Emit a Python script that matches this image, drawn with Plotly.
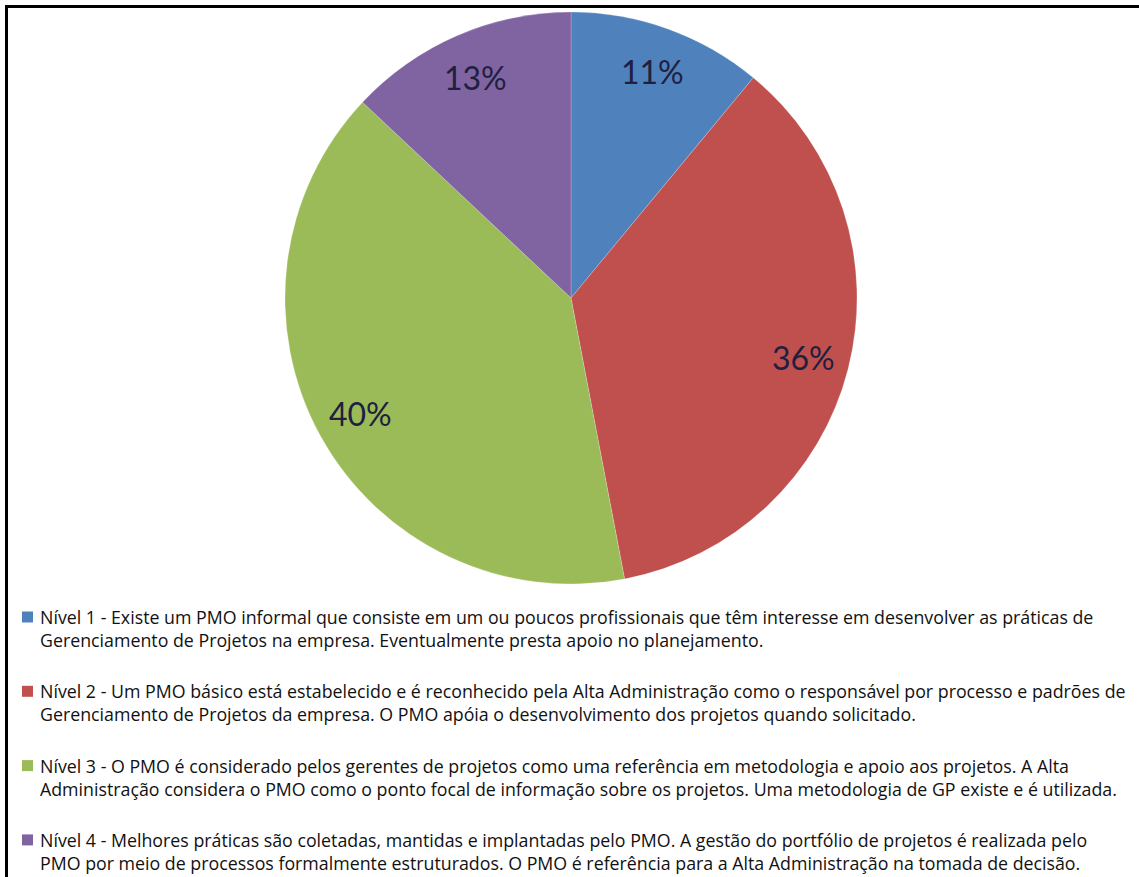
import math
import plotly.graph_objects as go

W, H = 1139, 877

levels = ["Nível 1", "Nível 2", "Nível 3", "Nível 4"]
values = [11, 36, 40, 13]
descriptions = [
    ["Nível 1 - Existe um PMO informal que consiste em um ou poucos profissionais que têm interesse em desenvolver as práticas de",
     "Gerenciamento de Projetos na empresa. Eventualmente presta apoio no planejamento."],
    ["Nível 2 - Um PMO básico está estabelecido e é reconhecido pela Alta Administração como o responsável por processo e padrões de",
     "Gerenciamento de Projetos da empresa. O PMO apóia o desenvolvimento dos projetos quando solicitado."],
    ["Nível 3 - O PMO é considerado pelos gerentes de projetos como uma referência em metodologia e apoio aos projetos. A Alta",
     "Administração considera o PMO como o ponto focal de informação sobre os projetos. Uma metodologia de GP existe e é utilizada."],
    ["Nível 4 - Melhores práticas são coletadas, mantidas e implantadas pelo PMO. A gestão do portfólio de projetos é realizada pelo",
     "PMO por meio de processos formalmente estruturados. O PMO é referência para a Alta Administração na tomada de decisão."],
]
colors = ["#4F81BD", "#C0504D", "#9BBB59", "#8064A2"]

# pie geometry (pixels)
cx, cy, R = 571, 298, 286

fig = go.Figure()
fig.add_trace(go.Pie(
    labels=levels,
    values=values,
    sort=False,
    direction="clockwise",
    rotation=0,
    marker=dict(colors=colors, line=dict(color="rgba(255,255,255,0.4)", width=0.5)),
    textinfo="none",
    hovertext=[" ".join(d) for d in descriptions],
    hoverinfo="text+percent",
    domain=dict(x=[(cx - R) / W, (cx + R) / W], y=[1 - (cy + R) / H, 1 - (cy - R) / H]),
    showlegend=False,
))

# percentage labels placed along each slice's mid-angle
total = sum(values)
cum = 0
for v in values:
    mid = (cum + v / 2) / total * 2 * math.pi
    cum += v
    px = cx + 0.84 * R * math.sin(mid)
    py = cy - 0.84 * R * math.cos(mid)
    fig.add_annotation(
        x=px / W, y=1 - py / H, xref="paper", yref="paper",
        xanchor="center", yanchor="middle",
        text=f"{round(v / total * 100)}%", showarrow=False,
        font=dict(family="Lato, Calibri, sans-serif", size=32, color="#1F2040"),
    )

# legend drawn as text lines with coloured squares
leg_x, leg_y0, item_step, line_step = 38, 617, 74.3, 23
for i, (lines, col) in enumerate(zip(descriptions, colors)):
    y_first = leg_y0 + i * item_step
    fig.add_shape(type="rect", xref="paper", yref="paper",
                  x0=22 / W, x1=33 / W, y0=1 - (y_first + 5.5) / H, y1=1 - (y_first - 5.5) / H,
                  fillcolor=col, line=dict(width=0))
    for j, line in enumerate(lines):
        fig.add_annotation(
            x=leg_x / W, y=1 - (y_first + j * line_step) / H, xref="paper", yref="paper",
            xanchor="left", yanchor="middle", text=line, showarrow=False,
            font=dict(family="Open Sans, sans-serif", size=17.8, color="#111111"),
        )

# frame lines (top and left)
fig.add_shape(type="line", xref="paper", yref="paper", x0=5 / W, x1=1, y0=1 - 6.5 / H, y1=1 - 6.5 / H,
              line=dict(color="black", width=3))
fig.add_shape(type="line", xref="paper", yref="paper", x0=6.5 / W, x1=6.5 / W, y0=0, y1=1 - 5 / H,
              line=dict(color="black", width=3))

fig.update_layout(
    width=W, height=H,
    margin=dict(l=0, r=0, t=0, b=0),
    paper_bgcolor="white",
    plot_bgcolor="white",
)

fig.write_html("out.html")
